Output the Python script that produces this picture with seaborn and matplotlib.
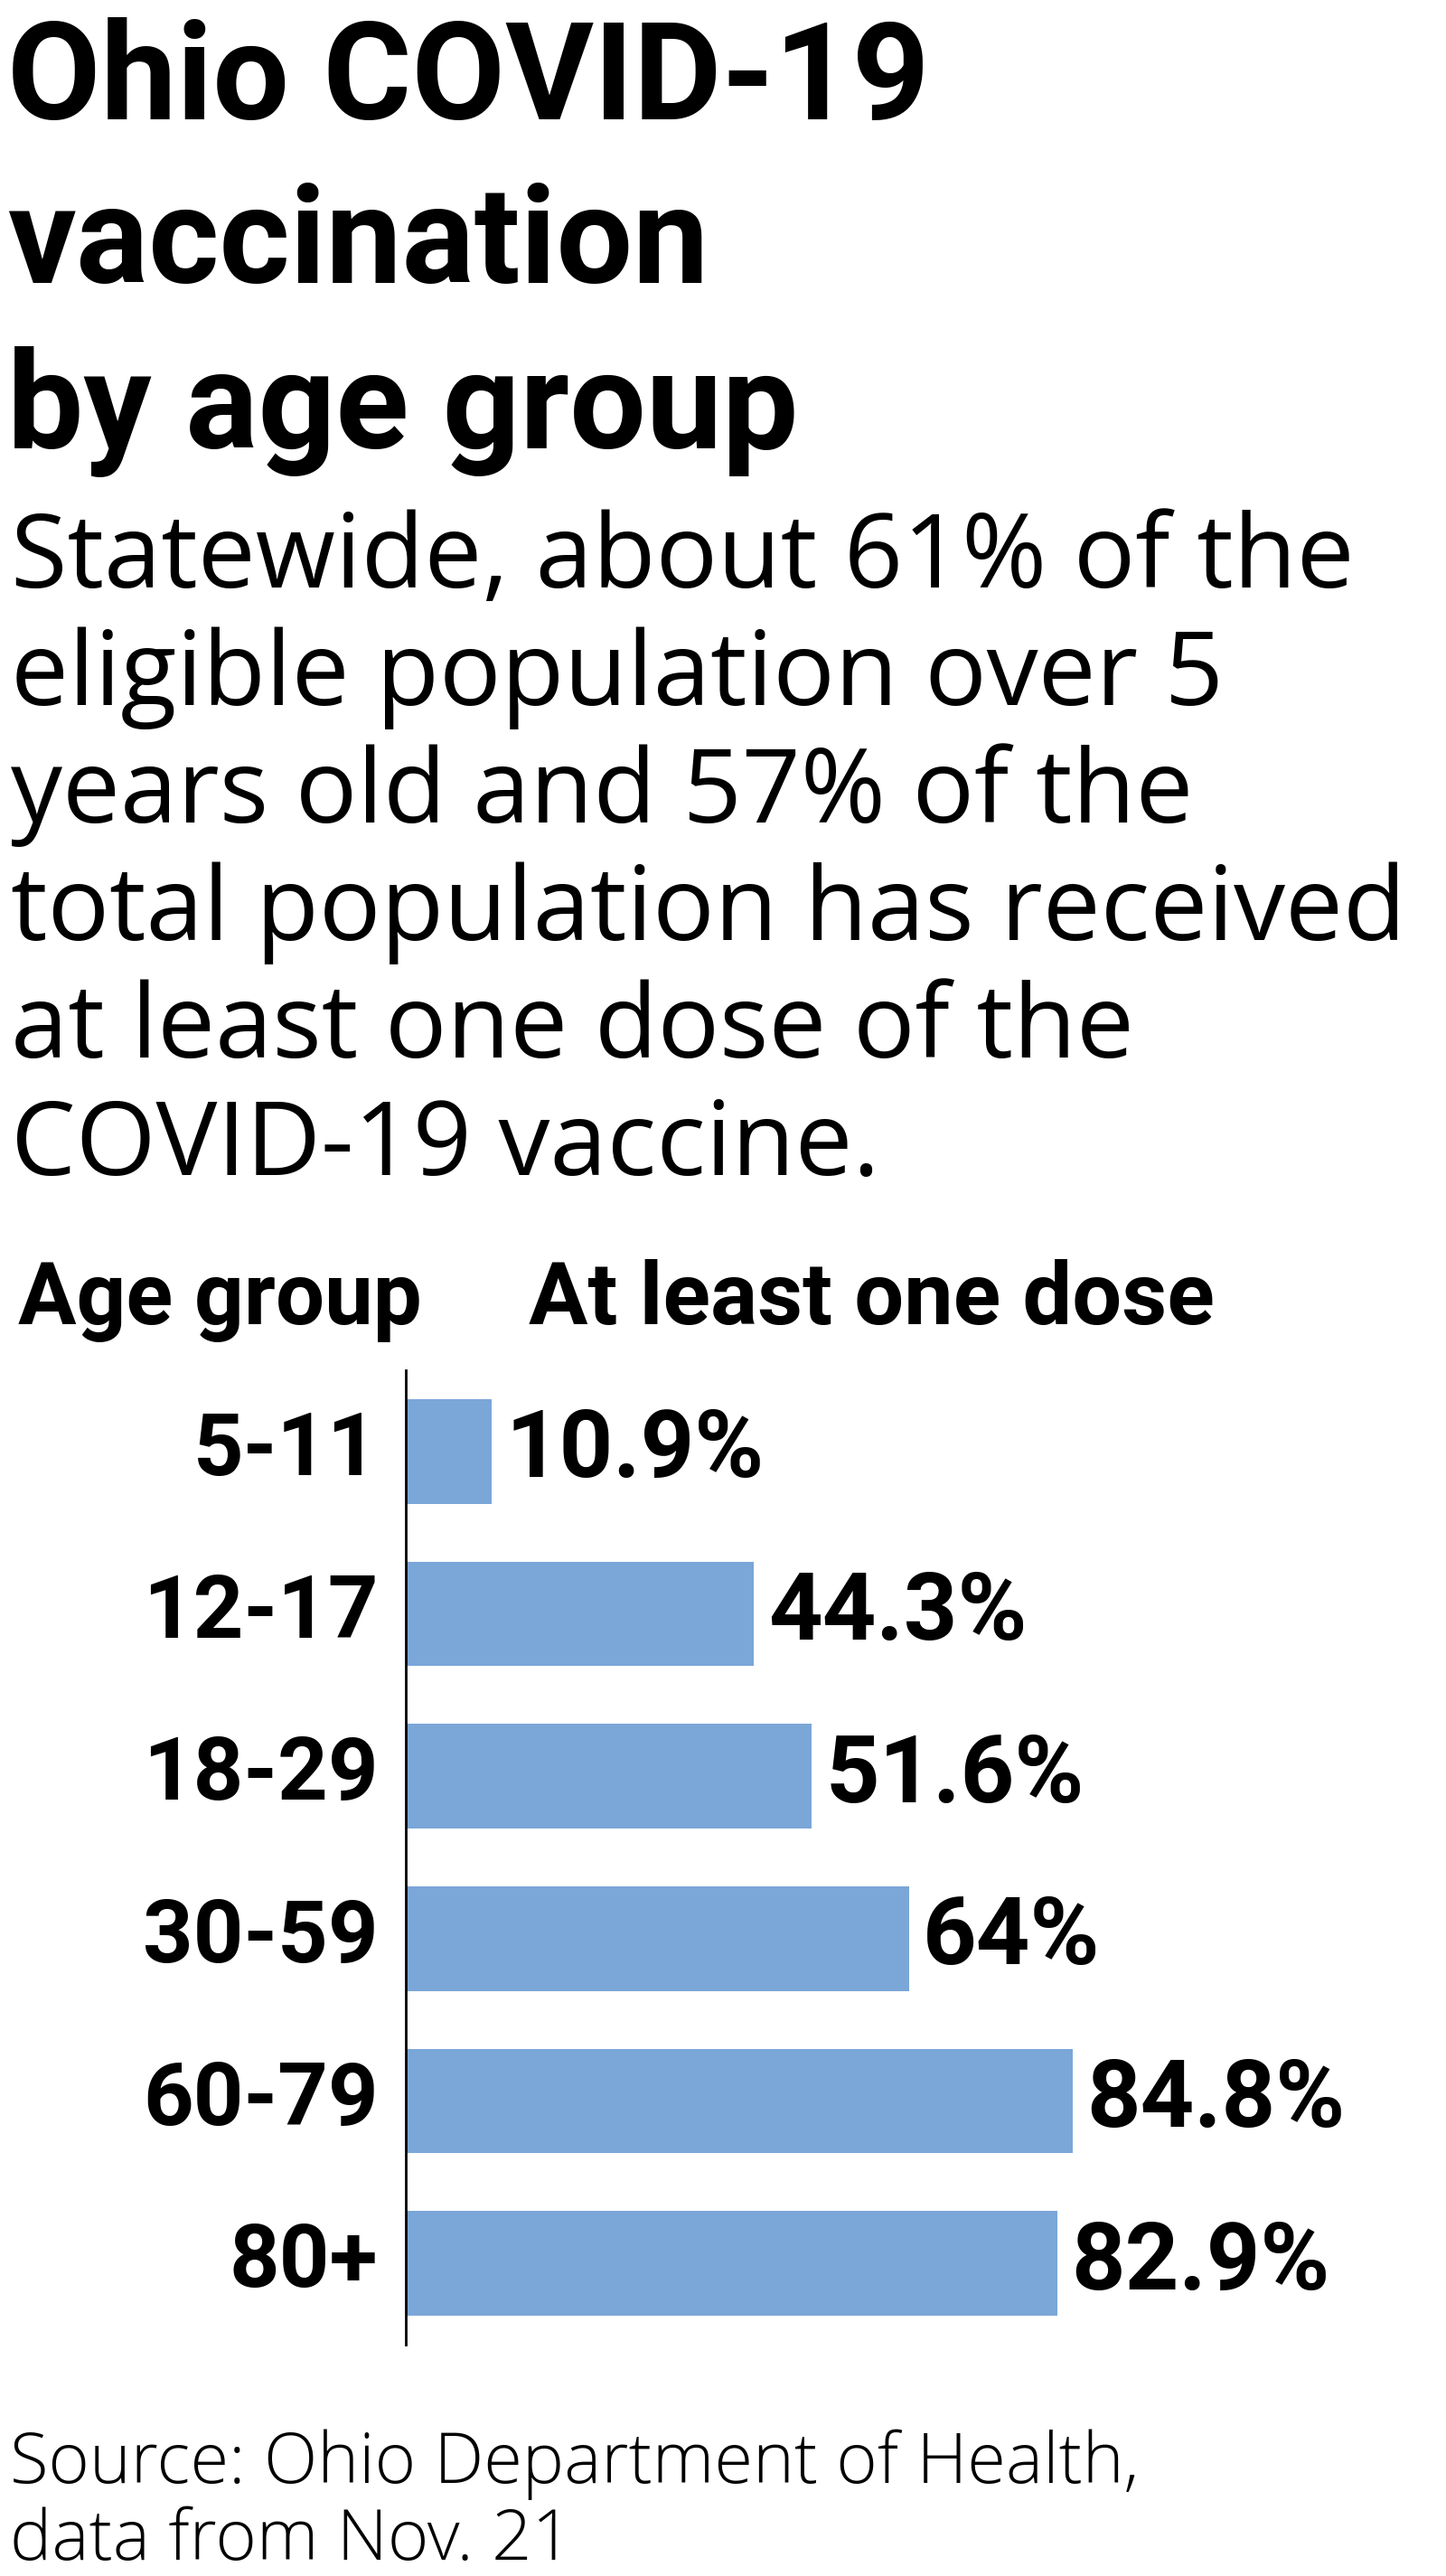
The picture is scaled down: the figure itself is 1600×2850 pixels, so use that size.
import matplotlib
matplotlib.use("Agg")
import matplotlib.pyplot as plt
import matplotlib.transforms as mtransforms
import seaborn as sns
import pandas as pd

# data
age_groups = ["5-11", "12-17", "18-29", "30-59", "60-79", "80+"]
one_dose_pct = [10.9, 44.3, 51.6, 64.0, 84.8, 82.9]
value_labels = ["10.9%", "44.3%", "51.6%", "64%", "84.8%", "82.9%"]

title_lines = ["Ohio COVID-19", "vaccination", "by age group"]
subtitle_lines = [
    "Statewide, about 61% of the",
    "eligible population over 5",
    "years old and 57% of the",
    "total population has received",
    "at least one dose of the",
    "COVID-19 vaccine.",
]
header_left = "Age group"
header_right = "At least one dose"
source_lines = ["Source: Ohio Department of Health,", "data from Nov. 21"]

bar_color = "#7ba6d8"

W, H, DPI = 1600, 2850, 100


def fx(px):
    return px / W


def fy(px):
    return 1 - px / H


sns.set_theme(style="white")
plt.rcParams["font.family"] = ["Roboto", "DejaVu Sans"]
plt.rcParams["text.color"] = "black"
plt.rcParams["ytick.color"] = "black"
plt.rcParams["ytick.labelcolor"] = "black"

fig = plt.figure(figsize=(W / DPI, H / DPI), dpi=DPI)
fig.patch.set_facecolor("white")

# title
for line, base in zip(title_lines, [132, 313, 496]):
    fig.text(fx(8), fy(base), line, fontsize=108, fontweight="bold",
             va="baseline", ha="left")

# subtitle
for i, line in enumerate(subtitle_lines):
    fig.text(fx(12), fy(650 + i * 130), line, fontsize=82,
             family=["Open Sans", "DejaVu Sans"], va="baseline", ha="left")

# column headers
fig.text(fx(20), fy(1465), header_left, fontsize=69, fontweight="bold",
         va="baseline", ha="left")
fig.text(fx(585), fy(1465), header_right, fontsize=70, fontweight="bold",
         va="baseline", ha="left")

# bars
df = pd.DataFrame({"age_group": age_groups, "pct": one_dose_pct})
ax = fig.add_axes([fx(449), fy(2594), fx(870), 1078 / H])
sns.barplot(data=df, x="pct", y="age_group", orient="h", color=bar_color,
            saturation=1, width=0.645, linewidth=0, ax=ax)
ax.set_xlim(0, 100)
ax.set_ylim(5.5, -0.5)
ax.set_xlabel("")
ax.set_ylabel("")
ax.set_xticks([])
ax.set_facecolor("white")
sns.despine(ax=ax, left=False, bottom=True)
ax.spines["left"].set_color("black")
ax.spines["left"].set_linewidth(2)
ax.tick_params(axis="y", length=0, pad=22, labelsize=70, labelcolor="black")

ax.bar_label(ax.containers[0], labels=value_labels, padding=11,
             fontsize=75, fontweight="bold", color="black")

shift = mtransforms.ScaledTranslation(0, 0.1, fig.dpi_scale_trans)
for lbl in ax.get_yticklabels():
    lbl.set_fontweight("bold")
    lbl.set_color("black")
    lbl.set_transform(lbl.get_transform() + shift)

# source
for line, base in zip(source_lines, [2747, 2832]):
    fig.text(fx(11), fy(base), line, fontsize=56, fontweight="light",
             family=["Open Sans", "DejaVu Sans"], va="baseline", ha="left")

fig.savefig("out.png", dpi=DPI)
plt.close(fig)
